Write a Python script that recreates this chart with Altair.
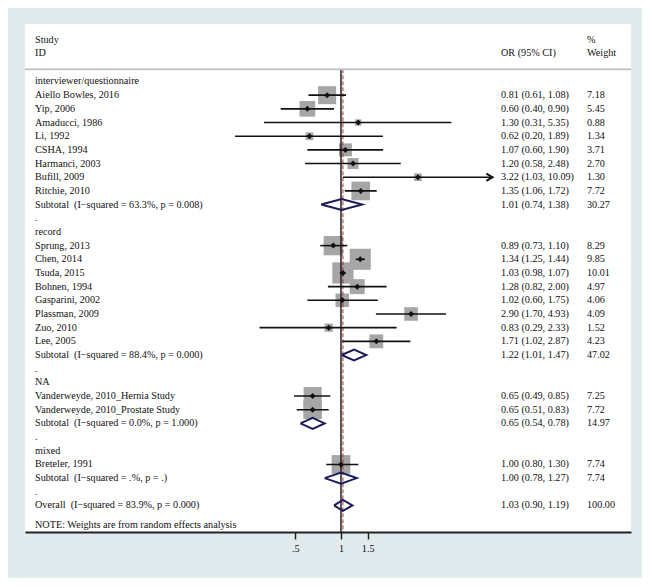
import altair as alt
import pandas as pd

# ---------------- data ----------------
groups = ["interviewer/questionnaire", "record", "NA", "mixed"]

study_group = [0, 0, 0, 0, 0, 0, 0, 0,
               1, 1, 1, 1, 1, 1, 1, 1,
               2, 2,
               3]
study_names = ["Aiello Bowles, 2016", "Yip, 2006", "Amaducci, 1986", "Li, 1992",
               "CSHA, 1994", "Harmanci, 2003", "Bufill, 2009", "Ritchie, 2010",
               "Sprung, 2013", "Chen, 2014", "Tsuda, 2015", "Bohnen, 1994",
               "Gasparini, 2002", "Plassman, 2009", "Zuo, 2010", "Lee, 2005",
               "Vanderweyde, 2010_Hernia Study", "Vanderweyde, 2010_Prostate Study",
               "Breteler, 1991"]
study_or = [0.81, 0.60, 1.30, 0.62, 1.07, 1.20, 3.22, 1.35,
            0.89, 1.34, 1.03, 1.28, 1.02, 2.90, 0.83, 1.71,
            0.65, 0.65,
            1.00]
study_lo = [0.61, 0.40, 0.31, 0.20, 0.60, 0.58, 1.03, 1.06,
            0.73, 1.25, 0.98, 0.82, 0.60, 1.70, 0.29, 1.02,
            0.49, 0.51,
            0.80]
study_hi = [1.08, 0.90, 5.35, 1.89, 1.90, 2.48, 10.09, 1.72,
            1.10, 1.44, 1.07, 2.00, 1.75, 4.93, 2.33, 2.87,
            0.85, 0.83,
            1.30]
study_wt = [7.18, 5.45, 0.88, 1.34, 3.71, 2.70, 1.30, 7.72,
            8.29, 9.85, 10.01, 4.97, 4.06, 4.09, 1.52, 4.23,
            7.25, 7.72,
            7.74]

sub_i2 = ["63.3%", "88.4%", "0.0%", ".%"]
sub_p = ["0.008", "0.000", "1.000", "."]
sub_or = [1.01, 1.22, 0.65, 1.00]
sub_lo = [0.74, 1.01, 0.54, 0.78]
sub_hi = [1.38, 1.47, 0.78, 1.27]
sub_wt = [30.27, 47.02, 14.97, 7.74]

overall_i2, overall_p = "83.9%", "0.000"
overall_or, overall_lo, overall_hi, overall_wt = 1.03, 0.90, 1.19, 100.00

axis_ticks = [0.5, 1, 1.5]
axis_labels = [".5", "1", "1.5"]
ci_clip = 10.0

# ---------------- build tables ----------------
labels, studies, diamonds = [], [], []
r = 0
for gi, g in enumerate(groups):
    labels.append({"row": r, "label": g, "ortxt": "", "wtxt": ""})
    r += 1
    for i in range(len(study_names)):
        if study_group[i] != gi:
            continue
        labels.append({"row": r, "label": study_names[i],
                       "ortxt": f"{study_or[i]:.2f} ({study_lo[i]:.2f}, {study_hi[i]:.2f})",
                       "wtxt": f"{study_wt[i]:.2f}"})
        studies.append({"row": r, "or": study_or[i], "lo": study_lo[i],
                        "hi": min(study_hi[i], ci_clip), "arrow": study_hi[i] > ci_clip,
                        "wt": study_wt[i]})
        r += 1
    labels.append({"row": r,
                   "label": f"Subtotal\u00a0 (I\u2212squared = {sub_i2[gi]}, p = {sub_p[gi]})",
                   "ortxt": f"{sub_or[gi]:.2f} ({sub_lo[gi]:.2f}, {sub_hi[gi]:.2f})",
                   "wtxt": f"{sub_wt[gi]:.2f}"})
    diamonds.append((gi, r, sub_or[gi], sub_lo[gi], sub_hi[gi]))
    r += 1
    labels.append({"row": r, "label": ".", "ortxt": "", "wtxt": ""})
    r += 1
labels.append({"row": r,
               "label": f"Overall\u00a0 (I\u2212squared = {overall_i2}, p = {overall_p})",
               "ortxt": f"{overall_or:.2f} ({overall_lo:.2f}, {overall_hi:.2f})",
               "wtxt": f"{overall_wt:.2f}"})
diamonds.append((len(groups), r, overall_or, overall_lo, overall_hi))
note_row = r + 1.45
labels.append({"row": note_row, "label": "NOTE: Weights are from random effects analysis",
               "ortxt": "", "wtxt": ""})

header = pd.DataFrame([
    {"row": -3.0, "c1": "Study", "c2": "", "c3": "%"},
    {"row": -2.12, "c1": "ID", "c2": "OR (95% CI)", "c3": "Weight"},
])

h = 0.4
dia_rows = []
for did, rr, est, lo, hi in diamonds:
    pts = [(lo, rr), (est, rr - h), (hi, rr), (est, rr + h), (lo, rr)]
    for k, (xv, yv) in enumerate(pts):
        dia_rows.append({"id": did, "k": k, "x": xv, "row": yv})

lab_df = pd.DataFrame(labels)
st_df = pd.DataFrame(studies)
dia_df = pd.DataFrame(dia_rows)
ref_df = pd.DataFrame({"v": [1.0, overall_or], "kind": ["null", "overall"],
                       "top": [-0.89, -0.89], "bot": [32.94, 32.94]})
sep_df = pd.DataFrame({"row": [-0.89]})

# ---------------- scales ----------------
W, H = 606, 508
xscale = alt.Scale(type="log", domain=[0.008214, 82.05], nice=False, zero=False)
yscale = alt.Scale(domain=[-4.204, 32.94], reverse=True, nice=False, zero=False)
FONT = "Liberation Serif"
FS = 10.2

X = alt.X("or:Q", scale=xscale,
          axis=alt.Axis(values=axis_ticks, title=None, grid=False,
                        labelExpr="datum.value == 0.5 ? '.5' : datum.value == 1 ? '1' : '1.5'",
                        domainColor="#222222", domainWidth=2, tickColor="#222222",
                        tickWidth=1.5, tickSize=7, labelFont=FONT, labelFontSize=FS,
                        labelColor="#111111", labelPadding=4, labelFlush=False))
Y = alt.Y("row:Q", scale=yscale, axis=None)

base_st = alt.Chart(st_df)

squares = base_st.mark_point(shape="square", filled=True, color="#a6a6a6", opacity=1).encode(
    x=X, y=Y,
    size=alt.Size("wt:Q", scale=alt.Scale(domain=[0, 10], range=[0, 451]), legend=None))

ci = base_st.mark_rule(color="#111111", strokeWidth=1.6).encode(
    x=alt.X("lo:Q", scale=xscale), x2="hi:Q", y=Y)

dots = base_st.mark_point(shape="diamond", filled=True, color="#111111", size=36, opacity=1).encode(
    x=alt.X("or:Q", scale=xscale), y=Y)

arrows = base_st.transform_filter("datum.arrow").mark_point(
    shape="M-1,-0.6L0,0L-1,0.6", filled=False, stroke="#111111", strokeWidth=2,
    size=150, opacity=1).encode(x=alt.X("hi:Q", scale=xscale), y=Y)

dia = alt.Chart(dia_df).mark_line(color="#1c1c5a", strokeWidth=2).encode(
    x=alt.X("x:Q", scale=xscale), y=Y, detail="id:N", order="k:Q")

null_line = alt.Chart(ref_df).transform_filter("datum.kind == 'null'").mark_rule(
    color="#222222", strokeWidth=1.5).encode(
    x=alt.X("v:Q", scale=xscale), y=alt.Y("top:Q", scale=yscale, axis=None), y2="bot:Q")

ov_line = alt.Chart(ref_df).transform_filter("datum.kind == 'overall'").mark_rule(
    color="#a8323e", strokeWidth=1, strokeDash=[4, 2]).encode(
    x=alt.X("v:Q", scale=xscale), y=alt.Y("top:Q", scale=yscale, axis=None), y2="bot:Q")

sep = alt.Chart(sep_df).mark_rule(color="#c4c4c4", strokeWidth=2).encode(
    x=alt.value(0), x2=alt.value(W), y=Y)

txt_kw = dict(font=FONT, fontSize=FS, align="left", baseline="middle", color="#111111")
lab_txt = alt.Chart(lab_df).mark_text(**txt_kw).encode(x=alt.value(10), y=Y, text="label:N")
or_txt = alt.Chart(lab_df).mark_text(**txt_kw).encode(x=alt.value(476), y=Y, text="ortxt:N")
wt_txt = alt.Chart(lab_df).mark_text(**txt_kw).encode(x=alt.value(562), y=Y, text="wtxt:N")

hdr1 = alt.Chart(header).mark_text(**txt_kw).encode(x=alt.value(10), y=Y, text="c1:N")
hdr2 = alt.Chart(header).mark_text(**txt_kw).encode(x=alt.value(476), y=Y, text="c2:N")
hdr3 = alt.Chart(header).mark_text(**txt_kw).encode(x=alt.value(562), y=Y, text="c3:N")

chart = alt.layer(
    squares, null_line, ov_line, ci, dots, arrows, dia, sep,
    lab_txt, or_txt, wt_txt, hdr1, hdr2, hdr3
).properties(
    width=W, height=H,
    padding={"left": 17, "top": 16, "right": 11, "bottom": 46},
    autosize=alt.AutoSizeParams(type="none"),
    background="#e1ebee",
).configure_view(fill="white", stroke=None)

chart.save("out.html", embed_options={"renderer": "svg", "actions": False})
